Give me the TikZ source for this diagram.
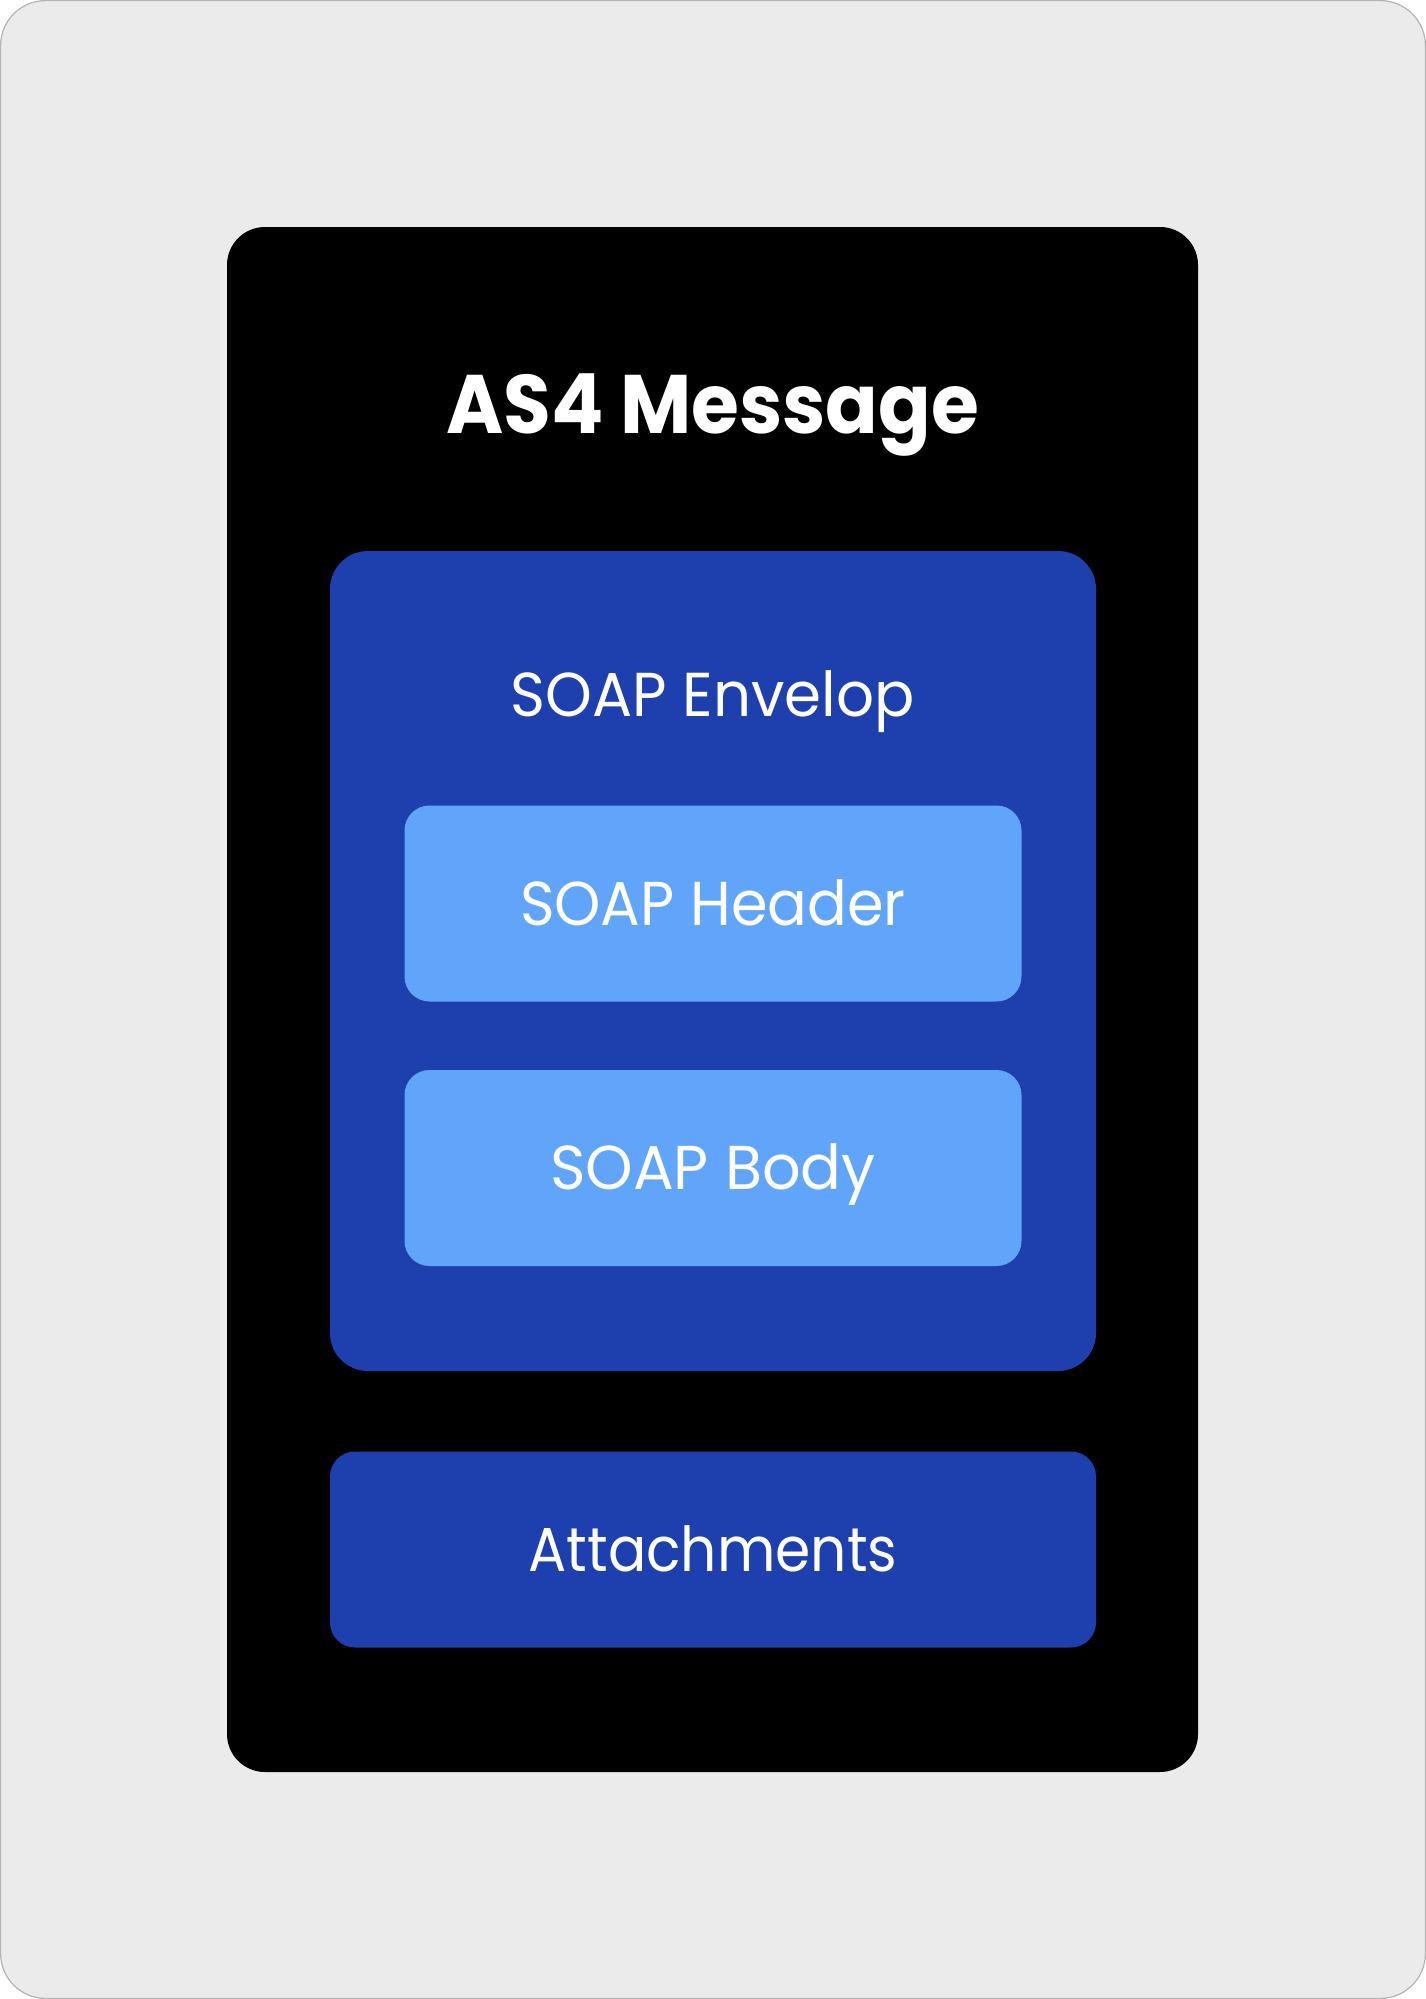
\documentclass[tikz,border=0pt]{standalone}
\usepackage{fontspec}
\setmainfont{Poppins}
\usepackage{graphicx}
\definecolor{bgc}{HTML}{EBEBEB}
\definecolor{edgec}{HTML}{B4B4B4}
\definecolor{darkblue}{HTML}{1E40AF}
\definecolor{lightblue}{HTML}{60A5FA}
\tikzset{
  panel/.style={draw=none, rectangle, inner sep=0pt, outer sep=0pt},
  blackbox/.style={panel, fill=black, rounded corners=38pt},
  envbox/.style={panel, fill=darkblue, rounded corners=38pt},
  partbox/.style={panel, fill=lightblue, rounded corners=25pt},
  attbox/.style={panel, fill=darkblue, rounded corners=25pt},
  lbl/.style={text=white, inner sep=0pt, outer sep=0pt, anchor=base},
}
\begin{document}
\begin{tikzpicture}[x=1pt,y=-1pt]
\useasboundingbox (0,0) rectangle (1426,1999);
\fill[bgc, draw=edgec, line width=1.2pt, rounded corners=45pt] (0.6,0.6) rectangle (1425.4,1998.4);
\node[blackbox, minimum width=971pt, minimum height=1545pt] (msg) at (712.5,999.5) {};
\node[envbox, minimum width=766pt, minimum height=820pt] (env) at (713,961) {};
\node[partbox, minimum width=617pt, minimum height=196pt] (hdr) at (713,903.5) {};
\node[partbox, minimum width=617pt, minimum height=196pt] (body) at (713,1168) {};
\node[attbox, minimum width=766pt, minimum height=196pt] (att) at (713,1549.5) {};
\node[lbl, font=\fontsize{83}{90}\selectfont\bfseries] (tmsg) at (712.5,433) {\scalebox{0.935}[1]{AS4 Message}};
\node[lbl, font=\fontsize{62}{70}\selectfont] (tenv) at (712.5,716) {\scalebox{0.96}[1]{SOAP Envelop}};
\node[lbl, font=\fontsize{62}{70}\selectfont] (thdr) at (713,925) {\scalebox{0.95}[1]{SOAP Header}};
\node[lbl, font=\fontsize{62}{70}\selectfont] (tbody) at (713,1189) {\scalebox{0.975}[1]{SOAP Body}};
\node[lbl, font=\fontsize{62}{70}\selectfont] (tatt) at (713,1571) {\scalebox{0.915}[1]{Attachments}};
\end{tikzpicture}
\end{document}
